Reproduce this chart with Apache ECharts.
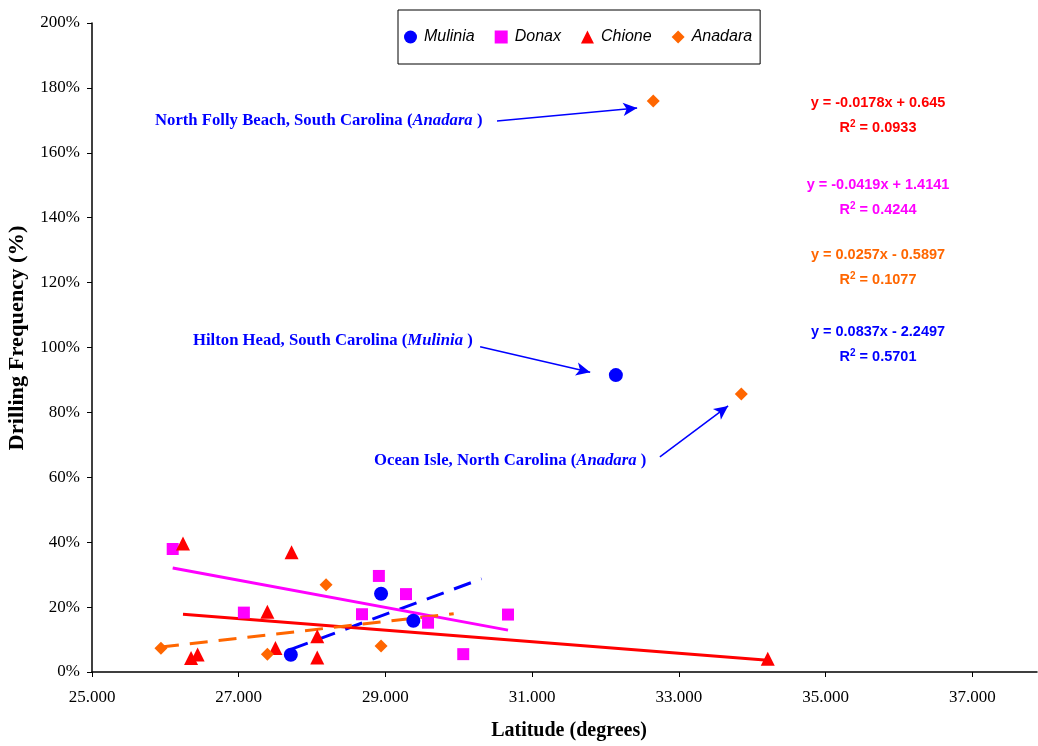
<!DOCTYPE html>
<html>
<head>
<meta charset="utf-8">
<script src="https://cdn.jsdelivr.net/npm/echarts@6/dist/echarts.min.js"></script>
<style>
html,body{margin:0;padding:0;background:#fff;}
#chart{width:1038px;height:746px;}
</style>
</head>
<body>
<div id="chart"></div>
<script>
// ---- data (latitude in degrees, drilling frequency in %) ----
const seriesNames = ['Mulinia', 'Donax', 'Chione', 'Anadara'];
const mulX = [27.71, 28.94, 29.38, 32.14];
const mulY = [5.3, 24.1, 15.8, 91.5];
const donX = [26.10, 27.07, 28.68, 28.91, 29.28, 29.58, 30.06, 30.67];
const donY = [37.9, 18.3, 17.8, 29.6, 24.0, 15.2, 5.5, 17.7];
const chiX = [26.24, 26.35, 26.44, 27.39, 27.50, 27.72, 28.07, 28.07, 34.21];
const chiY = [39.6, 4.3, 5.4, 18.6, 7.4, 36.9, 11.0, 4.5, 4.1];
const anaX = [25.94, 27.39, 28.19, 28.94, 32.65, 33.85];
const anaY = [7.3, 5.5, 26.9, 8.0, 176.0, 85.7];

// trendline equations as printed on the chart (y as a fraction)
const trendSlope = [0.0837, -0.0419, -0.0178, 0.0257];
const trendIntercept = [-2.2497, 1.4141, 0.645, -0.5897];
const trendFrom = [27.71, 26.10, 26.24, 25.94];
const trendTo = [30.31, 30.67, 34.21, 29.93];
const eqTexts = ['y = 0.0837x - 2.2497', 'y = -0.0419x + 1.4141', 'y = -0.0178x + 0.645', 'y = 0.0257x - 0.5897'];
const r2Texts = ['0.5701', '0.4244', '0.0933', '0.1077'];

// tick labels
const xTicks = [25, 27, 29, 31, 33, 35, 37];

// annotation arrows (data coordinates)
const arrowFrom = [[30.52, 169.8], [30.29, 100.2], [32.74, 66.3]];
const arrowTo = [[32.43, 173.8], [31.79, 92.4], [33.67, 82.0]];

const colors = ['#0000FF', '#FF00FF', '#FF0000', '#FF6600'];
const symbols = ['circle', 'rect', 'triangle', 'diamond'];
const xs = [mulX, donX, chiX, anaX];
const ys = [mulY, donY, chiY, anaY];
const dashed = [true, false, false, true];

const pairs = (a, b) => a.map((v, i) => [v, b[i]]);

const series = [];
for (let i = 0; i < 4; i++) {
  const f = x => (trendSlope[i] * x + trendIntercept[i]) * 100;
  series.push({
    name: seriesNames[i] + ' trend',
    type: 'line',
    data: [[trendFrom[i], f(trendFrom[i])], [trendTo[i], f(trendTo[i])]],
    showSymbol: false,
    symbol: 'none',
    silent: true,
    z: 2,
    lineStyle: { color: colors[i], width: 3, type: dashed[i] ? [18, 11] : 'solid' }
  });
}
for (let i = 0; i < 4; i++) {
  series.push({
    name: seriesNames[i],
    type: 'scatter',
    data: pairs(xs[i], ys[i]),
    symbol: symbols[i],
    symbolSize: i === 1 ? 12 : (i === 3 ? 13 : 14),
    itemStyle: { color: colors[i], opacity: 1 },
    z: 3
  });
}
series.push({
  name: '_arrows',
  type: 'line',
  data: [],
  silent: true,
  markLine: {
    silent: true,
    symbol: ['none', 'arrow'],
    symbolSize: [10, 14],
    label: { show: false },
    lineStyle: { color: '#0000FF', width: 1.5, type: 'solid' },
    data: arrowFrom.map((p, i) => [{ coord: p }, { coord: arrowTo[i] }])
  }
});

const serif = '"Liberation Serif", "Times New Roman", serif';
const sans = '"Liberation Sans", Arial, sans-serif';

const annoRich = {
  b: { fontFamily: serif, fontWeight: 'bold', fontSize: 16.7, fill: '#0000FF', color: '#0000FF' },
  i: { fontFamily: serif, fontWeight: 'bold', fontStyle: 'italic', fontSize: 16.7, fill: '#0000FF', color: '#0000FF' }
};
function anno(x, y, place, genus) {
  return {
    type: 'text', x: x, y: y, z: 10,
    style: {
      text: '{b|' + place + ' (}{i|' + genus + '}{b| )}',
      rich: annoRich,
      verticalAlign: 'middle',
      align: 'left'
    }
  };
}
const eqY = [331, 184, 102, 254];
const graphics = [
  anno(155, 121, 'North Folly Beach, South Carolina', 'Anadara'),
  anno(193, 341, 'Hilton Head, South Carolina', 'Mulinia'),
  anno(374, 461, 'Ocean Isle, North Carolina', 'Anadara'),
  {
    type: 'text', x: 18, y: 338, rotation: Math.PI / 2, scaleX: 1.12, z: 10,
    style: { text: 'Drilling Frequency (%)', fill: '#000', font: 'bold 20px ' + serif, align: 'center', verticalAlign: 'middle' }
  },
  {
    type: 'text', x: 569, y: 731, z: 10,
    style: { text: 'Latitude (degrees)', fill: '#000', font: 'bold 20px ' + serif, align: 'center', verticalAlign: 'middle' }
  }
];
for (let i = 0; i < 4; i++) {
  graphics.push({
    type: 'text', x: 878, y: eqY[i] + 1, z: 10,
    style: { text: eqTexts[i], fill: colors[i], font: 'bold 14.5px ' + sans, align: 'center', verticalAlign: 'middle' }
  });
  graphics.push({
    type: 'text', x: 878, y: eqY[i] + 26, z: 10,
    style: {
      text: '{a|R}{s|2}{a| = ' + r2Texts[i] + '}',
      rich: {
        a: { fontFamily: sans, fontWeight: 'bold', fontSize: 14.5, fill: colors[i], color: colors[i] },
        s: { fontFamily: sans, fontWeight: 'bold', fontSize: 10, fill: colors[i], color: colors[i], verticalAlign: 'top', padding: [0, 0, 7, 0] }
      },
      align: 'center', verticalAlign: 'middle'
    }
  });
}

const chart = echarts.init(document.getElementById('chart'), null, { renderer: 'canvas' });
chart.setOption({
  animation: false,
  backgroundColor: '#ffffff',
  grid: { left: 92, right: 1, top: 23, bottom: 74, containLabel: false },
  legend: {
    data: seriesNames.map((n, i) => ({ name: n, icon: symbols[i] })),
    left: 398, top: 10,
    orient: 'horizontal',
    itemWidth: 13, itemHeight: 13, itemGap: 20,
    padding: [19, 8, 19, 6],
    borderColor: '#000', borderWidth: 1,
    textStyle: { fontFamily: sans, fontStyle: 'italic', fontSize: 16, color: '#000', padding: [0, 0, 0, 2] }
  },
  xAxis: {
    type: 'value',
    min: 25, max: 37.88,
    axisLine: { show: true, lineStyle: { color: '#000', width: 1.5 } },
    axisTick: { show: true, customValues: xTicks, length: 5, lineStyle: { color: '#000' } },
    axisLabel: { customValues: xTicks, formatter: v => v.toFixed(3), fontFamily: serif, fontSize: 17, color: '#000', margin: 17 },
    splitLine: { show: false }
  },
  yAxis: {
    type: 'value',
    min: 0, max: 200, interval: 20,
    axisLine: { show: true, lineStyle: { color: '#000', width: 1.5 } },
    axisTick: { show: true, length: 5, lineStyle: { color: '#000' } },
    axisLabel: { formatter: '{value}%', fontFamily: serif, fontSize: 17, color: '#000', margin: 12 },
    splitLine: { show: false }
  },
  series: series,
  graphic: graphics
});
</script>
</body>
</html>
